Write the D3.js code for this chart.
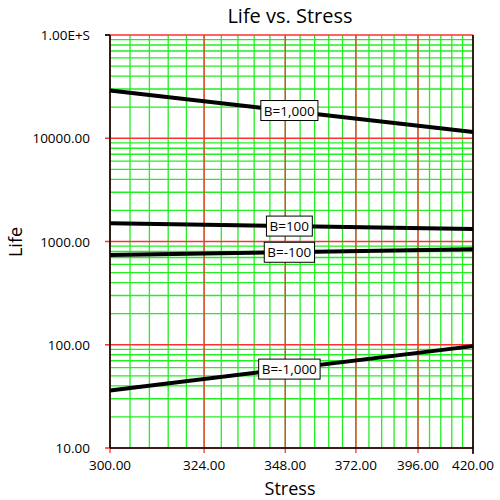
<!DOCTYPE html><html><head><meta charset="utf-8">
<script src="https://cdn.jsdelivr.net/npm/d3@7"></script>
<style>body{margin:0;background:#fff}text{font-family:"Open Sans",sans-serif}</style></head><body>
<svg id="c" width="500" height="500"></svg>
<script>
const xTicks=[300,324,348,372,396,420];
const xTickLabels=["300.00","324.00","348.00","372.00","396.00","420.00"];
const yTicks=[10,100,1000,10000,100000];
const yTickLabels=["10.00","100.00","1000.00","10000.00","1.00E+S"];
const seriesNames=["B=1,000","B=100","B=-100","B=-1,000"];
const stressPts=[300,420];
const lifeB1000=[29000,11500];
const lifeB100=[1500,1320];
const lifeBm100=[740,840];
const lifeBm1000=[36,97];
const labelStress=[348,348,348,348];
const allSeries=[lifeB1000,lifeB100,lifeBm100,lifeBm1000];

const L=110,R=473,T=35,B=448;
const svg=d3.select("#c");
const x=v=>d3.scaleLinear().domain([1/300,1/420]).range([L,R])(1/v);
const y=d3.scaleLog().domain([10,100000]).range([B,T]);
const g=svg.append("g");
for(let v=300;v<=420.01;v+=4.8){g.append("line").attr("x1",x(v)).attr("x2",x(v)).attr("y1",T).attr("y2",B).attr("stroke","#22ee22").attr("stroke-width",1.3);}
for(let d=10;d<100000;d*=10){for(let k=2;k<=9;k++){g.append("line").attr("x1",L).attr("x2",R).attr("y1",y(d*k)).attr("y2",y(d*k)).attr("stroke","#22ee22").attr("stroke-width",1.3);}}
xTicks.forEach(v=>g.append("line").attr("x1",x(v)).attr("x2",x(v)).attr("y1",T).attr("y2",B+5).attr("stroke","#ff3030").attr("stroke-width",1.3));
yTicks.forEach(v=>g.append("line").attr("x1",L-5).attr("x2",R).attr("y1",y(v)).attr("y2",y(v)).attr("stroke","#ff3030").attr("stroke-width",1.3));
g.append("line").attr("x1",L).attr("x2",L).attr("y1",T).attr("y2",B).attr("stroke","#000").attr("stroke-width",1.5);
g.append("line").attr("x1",R).attr("x2",R).attr("y1",T).attr("y2",B+6).attr("stroke","#000").attr("stroke-width",1.5);
g.append("line").attr("x1",L-5).attr("x2",L).attr("y1",T).attr("y2",T).attr("stroke","#000").attr("stroke-width",1.5);
g.append("line").attr("x1",L).attr("x2",R).attr("y1",B).attr("y2",B).attr("stroke","#000").attr("stroke-width",1.5);
xTicks.forEach((v,i)=>svg.append("text").attr("x",x(v)).attr("y",B+22).attr("text-anchor","middle").attr("font-size",13.5).text(xTickLabels[i]));
yTicks.forEach((v,i)=>svg.append("text").attr("x",L-20).attr("y",y(v)+5).attr("text-anchor","end").attr("font-size",13.5).text(yTickLabels[i]));
const line=d3.line().x(d=>x(d[0])).y(d=>y(d[1]));
allSeries.forEach((s,i)=>{
  const pts=stressPts.map((v,j)=>[v,s[j]]);
  svg.append("path").attr("d",line(pts)).attr("fill","none").attr("stroke","#000").attr("stroke-width",4);
});
allSeries.forEach((s,i)=>{
  const ls=labelStress[i];
  const t=(1/300-1/ls)/(1/300-1/420);
  const lv=Math.exp(Math.log(s[0])+t*(Math.log(s[1])-Math.log(s[0])));
  const lg=svg.append("g").attr("transform",`translate(${x(ls)+4},${y(lv)})`);
  const tx=lg.append("text").attr("text-anchor","middle").attr("y",5).attr("font-size",13.5).text(seriesNames[i]);
  const bb=tx.node().getBBox();
  lg.insert("rect","text").attr("x",bb.x-3).attr("y",bb.y-1).attr("width",bb.width+6).attr("height",bb.height+2).attr("fill","#fff").attr("stroke","#000").attr("stroke-width",1);
});
svg.append("text").attr("x",290).attr("y",23).attr("text-anchor","middle").attr("font-size",20).text("Life vs. Stress");
svg.append("text").attr("x",290).attr("y",495).attr("text-anchor","middle").attr("font-size",18).text("Stress");
svg.append("text").attr("transform","translate(22,242) rotate(-90)").attr("text-anchor","middle").attr("font-size",18).text("Life");
</script></body></html>
